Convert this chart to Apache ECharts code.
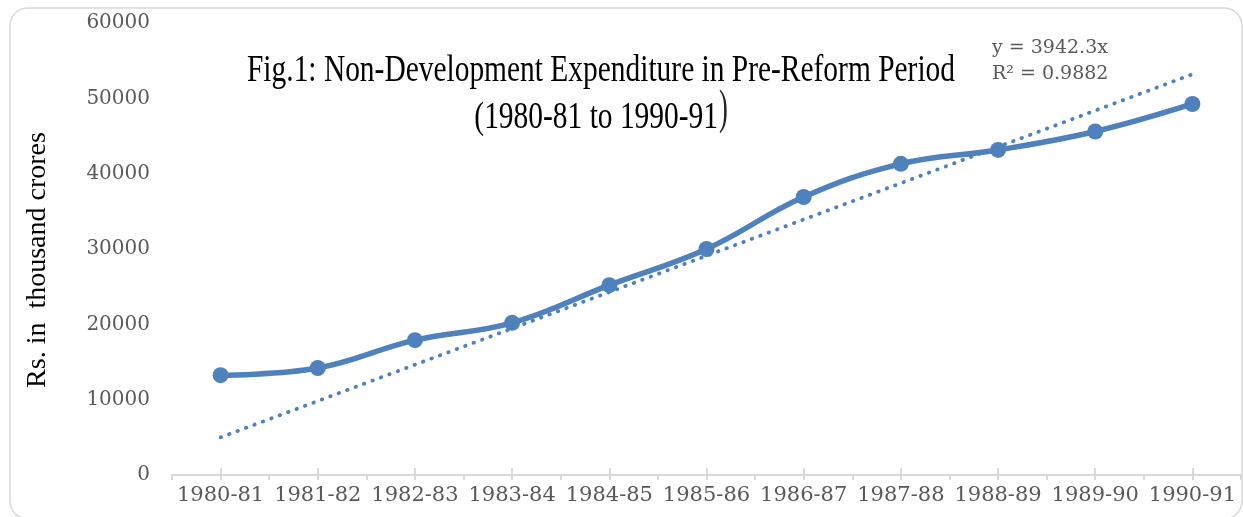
<!DOCTYPE html>
<html><head><meta charset="utf-8">
<script src="https://cdn.jsdelivr.net/npm/echarts@6/dist/echarts.min.js"></script>
<style>html,body{margin:0;padding:0;background:#fff}#c{width:1243px;height:517px}</style>
</head><body><div id="c"></div>
<script>
const categories = ['1980-81','1981-82','1982-83','1983-84','1984-85','1985-86','1986-87','1987-88','1988-89','1989-90','1990-91'];
const expenditure = [13250, 14200, 17900, 20200, 25200, 30000, 36900, 41300, 43150, 45600, 49250];
const trendStart = 5000;
const trendEnd = 53200;
const yMin = 0, yMax = 60000, yStep = 10000;
const titleLine1 = 'Fig.1: Non-Development Expenditure in Pre-Reform Period';
const titleLine2 = '(1980-81 to 1990-91';
const equationLines = ['y = 3942.3x', 'R\u00B2 = 0.9882'];
const yName = 'Rs. in  thousand crores';

const blue = '#4f81bd';
const gray = '#595959';
const tickFont = '"DejaVu Serif", serif';

function measure(txt, font){
  const c = document.createElement('canvas').getContext('2d');
  c.font = font; return c.measureText(txt).width;
}
const titleFont = '37px "Liberation Serif"';
const sx = 708 / measure(titleLine1, titleFont);

const chart = echarts.init(document.getElementById('c'), null, {renderer:'canvas'});
const baseX = {
  type:'category', data: categories, gridIndex:0, position:'bottom',
  axisLine:{show:false}, axisLabel:{show:false}, splitLine:{show:false}
};
chart.setOption({
  animation:false,
  backgroundColor:'#fff',
  grid:{left:172, right:2, top:23, bottom:42},
  xAxis:[
    { type:'category', data: categories, boundaryGap:true,
      axisLine:{show:true, lineStyle:{color:'#d9d9d9', width:2}},
      axisTick:{show:true, length:5, lineStyle:{color:'#d9d9d9', width:2}},
      axisLabel:{color:gray, fontFamily:tickFont, fontSize:21, margin:10, interval:0},
      splitLine:{show:false} },
    Object.assign({}, baseX, {axisTick:{show:true, alignWithLabel:true, length:5, lineStyle:{color:'#d9d9d9', width:2}}}),
    Object.assign({}, baseX, {axisTick:{show:true, alignWithLabel:true, inside:true, length:7, lineStyle:{color:'#d9d9d9', width:2}}})
  ],
  yAxis:{ type:'value', min:yMin, max:yMax, interval:yStep,
    axisLine:{show:false}, axisTick:{show:false}, splitLine:{show:false},
    axisLabel:{color:gray, fontFamily:tickFont, fontSize:20, margin:22, formatter: v => String(v)} },
  series:[
    { type:'line', data: expenditure, smooth:0.4, symbol:'circle', symbolSize:16,
      lineStyle:{color:blue, width:5.5}, itemStyle:{color:blue}, z:3 },
    { type:'line', data: [[categories[0], trendStart],[categories[categories.length-1], trendEnd]],
      symbol:'none', lineStyle:{color:blue, width:3.8, type:[0.5,8.5], cap:'round'}, z:2 }
  ],
  graphic:[
    { type:'rect', shape:{x:10, y:8, width:1232, height:511, r:18},
      style:{fill:'none', stroke:'#d9d9d9', lineWidth:1.5}, silent:true, z:-1 },
    { type:'text', x:601, y:71, scaleX:sx,
      style:{text:titleLine1, font:titleFont, fill:'#000', align:'center', verticalAlign:'middle'} },
    { type:'text', x:718, y:118, scaleX:sx,
      style:{text:titleLine2, font:titleFont, fill:'#000', align:'right', verticalAlign:'middle'} },
    { type:'text', x:719, y:110, scaleX:0.55,
      style:{text:')', font:'48px "Liberation Serif"', fill:'#222', align:'left', verticalAlign:'middle'} },
    { type:'text', x:992, y:48,
      style:{text:equationLines[0], font:'19px "DejaVu Serif"', fill:gray, align:'left', verticalAlign:'middle'} },
    { type:'text', x:992, y:74,
      style:{text:equationLines[1], font:'19px "DejaVu Serif"', fill:gray, align:'left', verticalAlign:'middle'} },
    { type:'text', x:38, y:260, rotation:Math.PI/2,
      style:{text:yName, font:'28px "Liberation Serif"', fill:'#000', align:'center', verticalAlign:'middle'} }
  ]
});
</script>
</body></html>
